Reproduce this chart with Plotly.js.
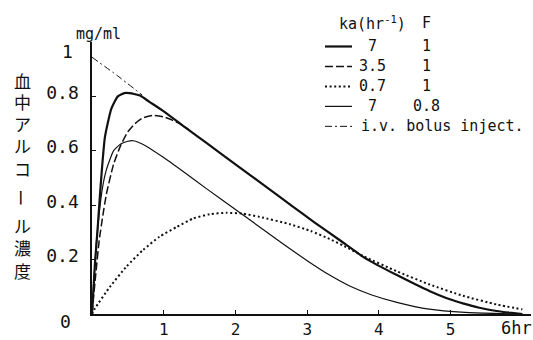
<!DOCTYPE html>
<html>
<head>
<meta charset="utf-8">
<script src="https://cdn.plot.ly/plotly-3.0.1.min.js"></script>
<style>html,body{margin:0;padding:0;background:#fff;}#chart{width:533px;height:340px;}</style>
</head>
<body>
<div id="chart"></div>
<script>
// ---- data ----
const tKa7 = [0, 0.04, 0.08, 0.12, 0.18, 0.27, 0.36, 0.45, 0.52, 0.6, 0.67, 0.8, 1.0, 1.3, 1.6, 2.0, 2.4, 2.8, 3.1, 3.45, 3.78, 4.0, 4.25, 4.5, 4.71, 5.0, 5.17, 5.4, 5.64, 5.85, 6.0];
const cKa7 = [0, 0.18, 0.32, 0.47, 0.65, 0.755, 0.80, 0.812, 0.812, 0.808, 0.803, 0.78, 0.745, 0.686, 0.628, 0.55, 0.473, 0.395, 0.337, 0.272, 0.21, 0.177, 0.143, 0.11, 0.084, 0.053, 0.039, 0.023, 0.011, 0.004, 0.0];

const tKa35 = [0, 0.05, 0.1, 0.15, 0.2, 0.3, 0.4, 0.5, 0.6, 0.7, 0.85, 1.0, 1.1, 1.22, 1.35];
const cKa35 = [0, 0.14, 0.27, 0.36, 0.44, 0.55, 0.62, 0.67, 0.70, 0.72, 0.73, 0.725, 0.715, 0.70, 0.678];

const tKa07 = [0, 0.04, 0.25, 0.48, 0.71, 0.94, 1.18, 1.41, 1.64, 1.87, 2.1, 2.34, 2.76, 3.05, 3.31, 3.5, 3.78, 4.25, 4.71, 5.17, 5.64, 6.0];
const cKa07 = [0, 0.02, 0.10, 0.174, 0.235, 0.284, 0.32, 0.351, 0.367, 0.372, 0.369, 0.357, 0.33, 0.305, 0.276, 0.252, 0.213, 0.157, 0.108, 0.067, 0.035, 0.017];

const tF08 = [0, 0.03, 0.06, 0.1, 0.15, 0.2, 0.3, 0.4, 0.5, 0.57, 0.7, 1.0, 1.3, 1.6, 2.0, 2.4, 2.7, 3.0, 3.3, 3.6, 3.9, 4.25, 4.7, 5.2, 5.6, 6.0];
const cF08 = [0, 0.14, 0.26, 0.37, 0.47, 0.53, 0.60, 0.625, 0.635, 0.637, 0.625, 0.575, 0.518, 0.46, 0.384, 0.308, 0.251, 0.196, 0.145, 0.102, 0.07, 0.043, 0.018, 0.006, 0.002, 0];

const tIV = [0, 0.35, 0.7];
const cIV = [0.944, 0.877, 0.805];

const xTickVals = [1, 2, 3, 4, 5];
const xTickText = ['1', '2', '3', '4', '5'];
const yTickVals = [0.2, 0.4, 0.6, 0.8];
const yTickText = ['0.2', '0.4', '0.6', '0.8'];

const legendKa = ['7', '3.5', '0.7', '7'];
const legendF = ['1', '1', '1', '0.8'];
const legendIV = 'i.v. bolus inject.';
const yTitleChars = ['血', '中', 'ア', 'ル', 'コ', 'ー', 'ル', '濃', '度'];

// ---- layout helpers (pixel -> paper) ----
const L = 92, T = 41.5, W = 439, H = 272.5;
const px = x => (x - L) / W;
const py = y => (T + H - y) / H;
const ink = '#111';
const mono = 'DejaVu Sans Mono, monospace';
const cjk = 'Noto Sans CJK JP';

const styles = [
  {width: 2.2, dash: 'solid'},
  {width: 1.5, dash: '8px,3px'},
  {width: 2.0, dash: '2px,2.6px'},
  {width: 1.2, dash: 'solid'},
  {width: 1.0, dash: '7px,3px,2px,3px'}
];

function tr(x, y, s) {
  return {x: x, y: y, type: 'scatter', mode: 'lines', line: {color: ink, width: s.width, dash: s.dash, shape: 'spline', smoothing: 0.5}, hoverinfo: 'skip', showlegend: false};
}

const data = [
  tr(tIV, cIV, styles[4]),
  tr(tKa07, cKa07, styles[2]),
  tr(tF08, cF08, styles[3]),
  tr(tKa35, cKa35, styles[1]),
  tr(tKa7, cKa7, styles[0])
];

const rowsY = [46, 66, 86, 106, 126];
const shapes = styles.map((s, i) => ({
  type: 'line', xref: 'paper', yref: 'paper',
  x0: px(325), x1: px(352), y0: py(rowsY[i]), y1: py(rowsY[i]),
  line: {color: ink, width: s.width, dash: s.dash}
}));

const ann = [];
function addText(text, x, y, size, anchor, font, extra) {
  const a = {text: text, xref: 'paper', yref: 'paper', x: px(x), y: py(y), xanchor: anchor || 'center', yanchor: 'middle', showarrow: false, font: {family: font || mono, size: size, color: ink}};
  if (extra) Object.assign(a, extra);
  ann.push(a);
}
addText('ka(hr<sup>-1</sup>)', 372, 22, 15);
addText('F', 426, 22, 15);
legendKa.forEach((k, i) => addText(k, 372, rowsY[i], 15));
legendF.forEach((f, i) => addText(f, 426, rowsY[i], 15));
addText(legendIV, 359, rowsY[4], 15, 'left');
addText('mg/ml', 98, 33, 15);
addText('1', 67, 51, 18);
addText('0', 65, 322, 18);
addText('6hr', 516, 328, 17);
// vertical Japanese axis title (the long-vowel mark is turned for vertical writing)
const yCharPos = [80, 101, 123, 145, 168, 197, 225, 247, 270];
yTitleChars.forEach((c, i) => {
  const extra = {height: 19, borderpad: 0};
  if (c === 'ー') Object.assign(extra, {textangle: 90});
  addText(c, 22, yCharPos[i], 17, 'center', cjk, extra);
});

const layout = {
  width: 533, height: 340,
  margin: {l: L, r: 533 - L - W, t: T, b: 340 - T - H},
  paper_bgcolor: '#fff', plot_bgcolor: '#fff',
  showlegend: false,
  xaxis: {range: [0, 6.12], showgrid: false, zeroline: false, showline: true, linecolor: ink, linewidth: 1.6,
    ticks: 'inside', ticklen: 4, tickcolor: ink, tickwidth: 1,
    tickvals: xTickVals, ticktext: xTickText, tickfont: {family: mono, size: 16, color: ink}, ticklabelstandoff: 0},
  yaxis: {range: [0, 1], showgrid: false, zeroline: false, showline: true, linecolor: ink, linewidth: 1.6,
    ticks: 'inside', ticklen: 4, tickcolor: ink, tickwidth: 1,
    tickvals: yTickVals, ticktext: yTickText, tickfont: {family: mono, size: 18, color: ink}, ticklabelstandoff: 8, ticklabelshift: -4},
  shapes: shapes,
  annotations: ann
};

Plotly.newPlot('chart', data, layout, {staticPlot: true, displayModeBar: false});
</script>
</body>
</html>
